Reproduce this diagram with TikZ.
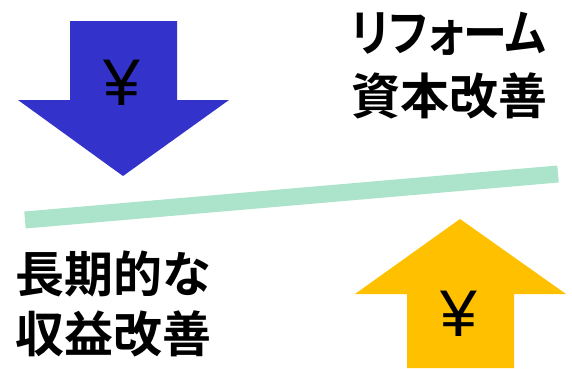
\documentclass[tikz,border=0pt]{standalone}
\usepackage{graphicx}
\usepackage{fontspec}
\newfontfamily\cjkb{Noto Sans CJK JP Bold}
\newfontfamily\cjkp[RawFeature=+palt]{Noto Sans CJK JP Bold}
\newfontfamily\yenf{Liberation Sans}
\definecolor{arrblue}{HTML}{3333CC}
\definecolor{arryellow}{HTML}{FFC000}
\definecolor{mint}{HTML}{ABE3CB}
\begin{document}
\begin{tikzpicture}[x=1pt,y=-1pt,
  lbl/.style={font=\cjkb\fontsize{49}{49}\selectfont, inner sep=0pt, anchor=west},
  lblp/.style={font=\cjkp\fontsize{50}{50}\selectfont, inner sep=0pt, anchor=west},
  yen/.style={font=\yenf\fontsize{66}{66}\selectfont, inner sep=0pt}]
\useasboundingbox (0,0) rectangle (572,368);
% blue down arrow
\fill[arrblue] (70,21) -- (177,21) -- (177,100) -- (229,100) -- (123,176) -- (18,100) -- (70,100) -- cycle;
\node[yen] (y1) at (122,83) {¥};
% yellow up arrow
\fill[arryellow] (407,368) -- (407,294) -- (355,294) -- (460,219) -- (566,294) -- (514,294) -- (514,368) -- cycle;
\node[yen] (y2) at (459,314) {¥};
% mint line
\coordinate (l1) at (25,220);
\coordinate (l2) at (558,174);
\draw[mint, line width=17pt] (l1) -- (l2);
% texts
\node[lblp] (t1) at (351,34) {\scalebox{0.88}[1]{リフォーム}};
\node[lbl] (t2) at (351,96) {資本改善};
\node[lbl] (t3) at (15,274) {長期的な};
\node[lbl] (t4) at (15,334) {収益改善};
\end{tikzpicture}
\end{document}
